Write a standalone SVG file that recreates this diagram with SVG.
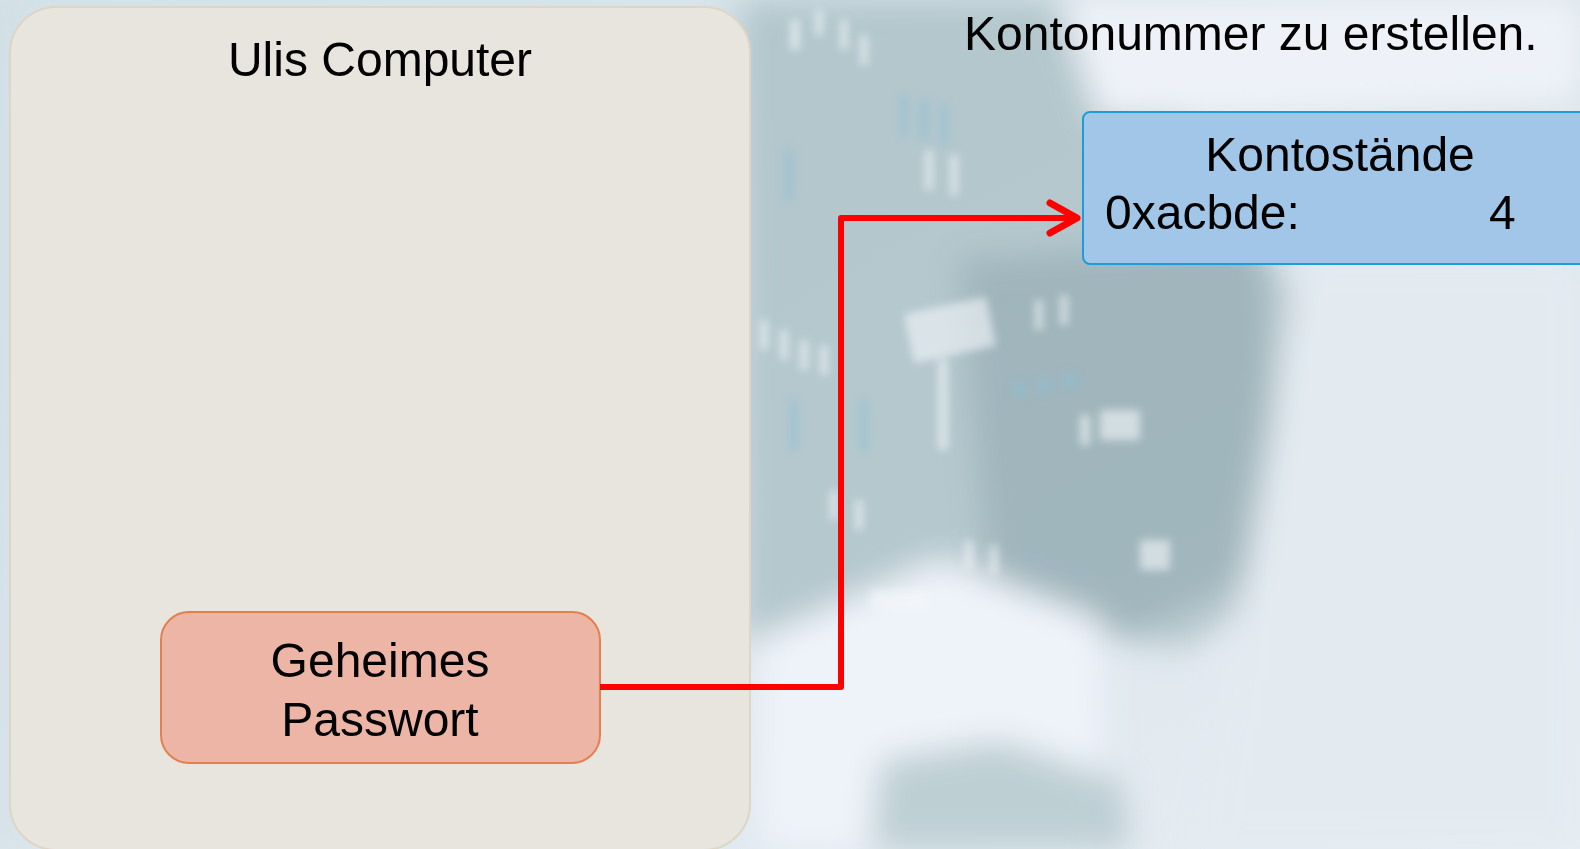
<svg xmlns="http://www.w3.org/2000/svg" width="1580" height="849" viewBox="0 0 1580 849">
<defs>
<style>
.t{font-family:"Liberation Sans",Arial,sans-serif;font-size:48px;fill:#000}
.c{text-anchor:middle}
</style>
<filter id="blur" x="-20%" y="-20%" width="140%" height="140%"><feGaussianBlur stdDeviation="16"/></filter>
<filter id="blur2" x="-20%" y="-20%" width="140%" height="140%"><feGaussianBlur stdDeviation="4"/></filter>
<linearGradient id="bg" x1="0" y1="0" x2="1" y2="1">
<stop offset="0" stop-color="#d4e2e7"/>
<stop offset="0.6" stop-color="#dde7ed"/>
<stop offset="1" stop-color="#e8eef4"/>
</linearGradient>
</defs>
<g id="background">
<rect x="0" y="0" width="1580" height="849" fill="url(#bg)"/>
<g filter="url(#blur)">
<path d="M740,0 L1060,0 L1120,80 L1260,180 L1280,560 L1120,640 L960,600 L760,640 L740,640 Z" fill="#8eaab0" opacity="0.5"/>
<path d="M960,260 L1250,240 L1330,330 L1300,580 L1180,650 L990,610 Z" fill="#86a0a6" opacity="0.45"/>
<path d="M760,640 L940,560 L1100,620 L1100,849 L760,849 Z" fill="#eef3f9"/>
<path d="M880,760 L1000,740 L1120,780 L1130,849 L870,849 Z" fill="#98b0b6" opacity="0.55"/>
<path d="M1060,0 L1580,0 L1580,100 L1100,120 Z" fill="#eef2f8"/>
<path d="M1300,260 L1580,260 L1580,849 L1200,849 L1250,560 Z" fill="#e3ebf1"/>
<rect x="0" y="0" width="14" height="849" fill="#cfdde3"/>
</g>
<g filter="url(#blur2)" fill="#f4f7fa" opacity="0.6">
<rect x="908" y="305" width="84" height="50" transform="rotate(-12 950 330)"/>
<rect x="938" y="360" width="10" height="90"/>
<rect x="790" y="20" width="10" height="30"/>
<rect x="815" y="10" width="8" height="26"/>
<rect x="840" y="20" width="8" height="30"/>
<rect x="860" y="35" width="8" height="30"/>
<rect x="760" y="320" width="8" height="30"/>
<rect x="780" y="330" width="8" height="30"/>
<rect x="800" y="340" width="8" height="30"/>
<rect x="820" y="345" width="8" height="30"/>
<rect x="1035" y="300" width="8" height="30"/>
<rect x="1060" y="295" width="8" height="30"/>
<rect x="1080" y="415" width="10" height="30"/>
<rect x="1100" y="410" width="40" height="30"/>
<rect x="1140" y="540" width="30" height="30"/>
<rect x="965" y="540" width="8" height="30"/>
<rect x="990" y="545" width="8" height="30"/>
<rect x="830" y="490" width="8" height="30"/>
<rect x="855" y="500" width="8" height="30"/>
<rect x="925" y="150" width="8" height="40"/>
<rect x="950" y="155" width="8" height="40"/>
<rect x="870" y="590" width="60" height="20"/>
</g>
<g filter="url(#blur2)" fill="#8cbfd6" opacity="0.5">
<circle cx="1020" cy="390" r="8"/><circle cx="1045" cy="385" r="8"/><circle cx="1070" cy="380" r="8"/>
<rect x="900" y="95" width="8" height="40"/><rect x="920" y="100" width="8" height="40"/><rect x="940" y="105" width="8" height="40"/>
<rect x="785" y="150" width="8" height="50"/><rect x="790" y="400" width="8" height="50"/><rect x="860" y="400" width="8" height="50"/>
</g>
</g>
<g id="ulis-computer">
<rect x="10" y="7" width="740" height="843" rx="46" fill="#e8e5de" stroke="#ddd6c4" stroke-width="2"/>
<text class="t c" x="380" y="76">Ulis Computer</text>
</g>
<text id="caption" class="t" x="964" y="50">Kontonummer zu erstellen.</text>
<g id="geheimes-passwort">
<rect x="161" y="612" width="439" height="151" rx="28" fill="#edb5a6" stroke="#e2804f" stroke-width="2"/>
<text class="t c" x="380" y="677">Geheimes</text>
<text class="t c" x="380" y="736">Passwort</text>
</g>
<g id="kontostaende">
<rect x="1083" y="112" width="520" height="152" rx="7" fill="#a2c6e8" stroke="#1f9bd7" stroke-width="2"/>
<text class="t c" x="1340" y="171">Kontostände</text>
<text class="t" x="1105" y="229">0xacbde:</text>
<text class="t" x="1489" y="229">4</text>
</g>
<g id="connectors">
<path d="M600,687 L841,687 L841,218 L1076,218" fill="none" stroke="#ff0000" stroke-width="6" stroke-linejoin="round"/>
<path d="M1050,203 L1077,218 L1050,233" fill="none" stroke="#ff0000" stroke-width="7" stroke-linecap="round" stroke-linejoin="round"/>
</g>
</svg>
